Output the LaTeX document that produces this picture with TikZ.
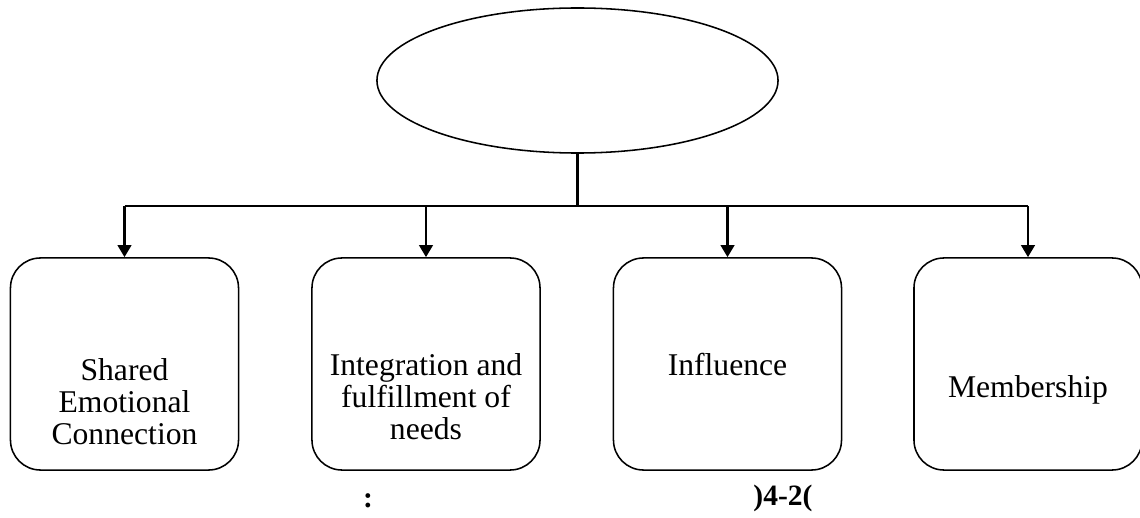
\documentclass[tikz,border=0pt]{standalone}
\usepackage{fontspec}
\setmainfont{Liberation Serif}
\usepackage{tikz}
\usetikzlibrary{shapes,arrows.meta,positioning,calc}

\begin{document}
\begin{tikzpicture}[x=0.025cm,y=-0.025cm,
    dimbox/.style={draw,rounded corners=0.75cm,line width=1.1pt,minimum width=5.7cm,minimum height=5.3cm,inner sep=0pt},
    dimtext/.style={align=center,anchor=base,font=\fontsize{22.5}{22.5}\selectfont},
    capt/.style={anchor=base,font=\fontsize{21}{24}\selectfont\bfseries},
    arr/.style={line width=1.8pt,-{Triangle[length=8.5pt,width=9.5pt]}}]
    \useasboundingbox (0,0) rectangle (1140,518);

    % Top ellipse (empty)
    \node[draw,ellipse,line width=1.1pt,minimum width=10.025cm,minimum height=3.625cm,inner sep=0pt] (sense) at (577.5,80.5) {};

    % Four dimensions
    \node[dimbox] (shared) at (124.5,364) {};
    \node[dimbox] (integ) at (426,364) {};
    \node[dimbox] (infl) at (727.5,364) {};
    \node[dimbox] (member) at (1028,364) {};

    % text sits low in the boxes (base = last line)
    \node[dimtext] (sharedtxt) at (124.5,444) {Shared\\Emotional\\Connection};
    \node[dimtext] (integtxt) at (426,439) {Integration and\\fulfillment of\\needs};
    \node[dimtext] (infltxt) at (727.5,375) {Influence};
    \node[dimtext] (membertxt) at (1028,397) {Membership};

    % Bus from ellipse to the boxes
    \coordinate (busL) at (124.5,206);
    \coordinate (busR) at (1028,206);
    \draw[line width=1.8pt] (sense.south) -- (sense.south |- busL);
    \draw[line width=1.8pt] (busL) -- (busR);
    \draw[arr] (busL) -- (shared.north);
    \draw[arr] (integ.north |- busL) -- (integ.north);
    \draw[arr] (infl.north |- busL) -- (infl.north);
    \draw[arr] (busR) -- (member.north);

    % Caption
    \node[capt] (colon) at (368,507) {:};
    \node[capt] (fignum) at (783,505) {)4-2(};
\end{tikzpicture}
\end{document}
